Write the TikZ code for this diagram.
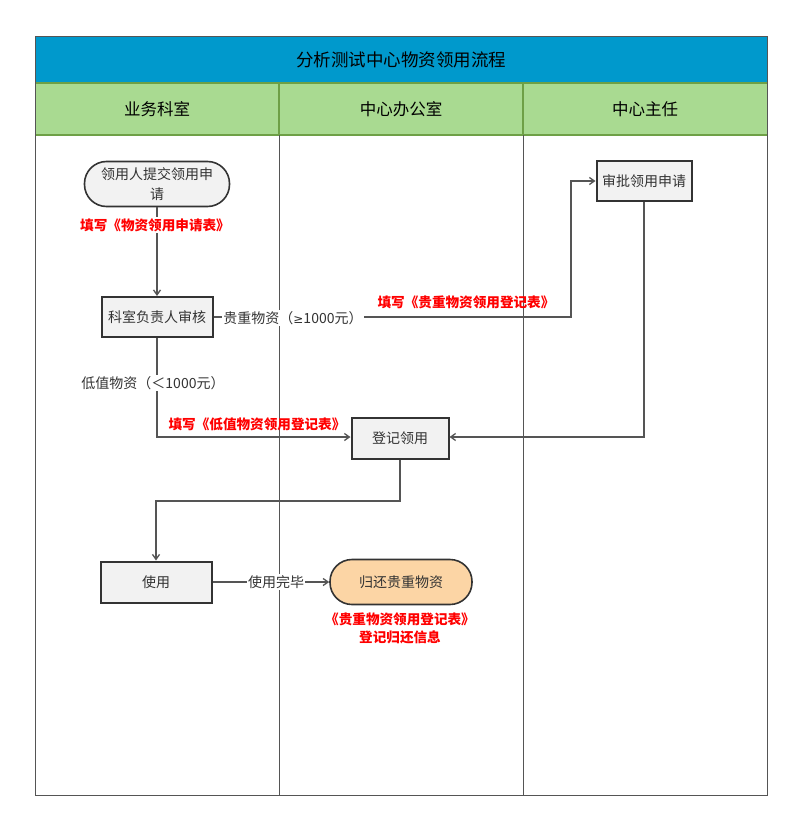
\documentclass[tikz,border=0pt]{standalone}
\usepackage{fontspec}
\setmainfont{Noto Sans CJK SC}
\newfontfamily\symfont{DejaVu Sans}
\usetikzlibrary{arrows.meta,positioning}
\definecolor{titleblue}{RGB}{0,153,204}
\definecolor{headgreen}{RGB}{169,218,145}
\definecolor{headline}{RGB}{110,160,70}
\definecolor{boxfill}{RGB}{242,242,242}
\definecolor{peach}{RGB}{252,213,165}
\definecolor{linegray}{RGB}{85,85,85}
\definecolor{txtgray}{RGB}{51,51,51}
\tikzset{
  procbox/.style={draw=txtgray,line width=2pt,fill=boxfill,minimum height=40pt,inner sep=2pt,font=\fontsize{14}{16}\selectfont,text=txtgray},
  termbox/.style={draw=txtgray,line width=1.6pt,fill=boxfill,rounded corners=22pt,minimum height=45pt,inner sep=2pt,align=center,font=\fontsize{14}{20}\selectfont,text=txtgray},
  conn/.style={draw=linegray,line width=1.3pt,-{Straight Barb[length=5pt,width=7pt]}},
  redlab/.style={text=red,font=\bfseries\fontsize{13.6}{18}\selectfont,align=center,inner sep=1pt},
  graylab/.style={text=txtgray,font=\fontsize{14}{16}\selectfont,fill=white,inner sep=1pt},
  headtxt/.style={font=\fontsize{16.5}{18}\selectfont,text=black}
}
\begin{document}
\begin{tikzpicture}[x=1pt,y=-1pt]
\useasboundingbox (0,0) rectangle (800,829);
\fill[white] (0,0) rectangle (800,829);
% title
\fill[titleblue] (35,37) rectangle (767,83);
\node[font=\fontsize{17.5}{19}\selectfont] (title) at (401,60) {分析测试中心物资领用流程};
% headers
\fill[headgreen] (35,83) rectangle (767,135);
\draw[headline,line width=1.5pt] (35,83) -- (767,83);
\draw[headline,line width=1.5pt] (35,135) -- (767,135);
\draw[headline,line width=1.5pt] (279,83) -- (279,135);
\draw[headline,line width=1.5pt] (523,83) -- (523,135);
\node[headtxt] (h1) at (157,109) {业务科室};
\node[headtxt] (h2) at (401,109) {中心办公室};
\node[headtxt] (h3) at (645,109) {中心主任};
% lanes
\draw[linegray,line width=1pt] (279,135) -- (279,795);
\draw[linegray,line width=1pt] (523,135) -- (523,795);
\draw[linegray,line width=1pt] (35,37) rectangle (767,795);
% nodes
\node[termbox,minimum width=145pt,text width=125pt] (submit) at (157,184) {领用人提交领用申\\请};
\node[procbox,minimum width=111pt] (review) at (157,317) {科室负责人审核};
\node[procbox,minimum width=95pt] (approve) at (644,181) {审批领用申请};
\node[procbox,minimum width=97pt,minimum height=41pt] (register) at (400,438) {登记领用};
\node[procbox,minimum width=111pt,minimum height=41pt] (use) at (156,582) {使用};
\node[termbox,fill=peach,minimum width=142pt] (return) at (401,582) {归还贵重物资};
% coordinates
\coordinate (c1) at (571,317);
\coordinate (c2) at (571,181);
\coordinate (c3) at (644,437);
\coordinate (c4) at (157,437);
\coordinate (c5) at (400,501);
\coordinate (c6) at (156,501);
% connectors
\draw[conn] (submit) -- (review);
\draw[conn] (review.east) -- (c1) -- (c2) -- (approve.west);
\draw[conn] (approve.south) -- (c3) -- (register.east |- c3);
\draw[conn] (review.south) -- (c4) -- (register.west |- c4);
\draw[conn] (register.south) -- (c5) -- (c6) -- (use.north);
\draw[conn] (use.east) -- (return.west);
% labels
\node[redlab,fill=white] (l1) at (155,225) {填写《物资领用申请表》};
\node[graylab] (l2) at (293,318) {贵重物资（{\symfont\fontsize{12}{14}\selectfont ≥}1000元）};
\node[redlab] (l3) at (466,302) {填写《贵重物资领用登记表》};
\node[graylab] (l4) at (153,383) {低值物资（＜1000元）};
\node[redlab] (l5) at (257,424) {填写《低值物资领用登记表》};
\node[graylab] (l6) at (276,582) {使用完毕};
\node[redlab] (l7) at (400,628) {《贵重物资领用登记表》\\登记归还信息};
\end{tikzpicture}
\end{document}
